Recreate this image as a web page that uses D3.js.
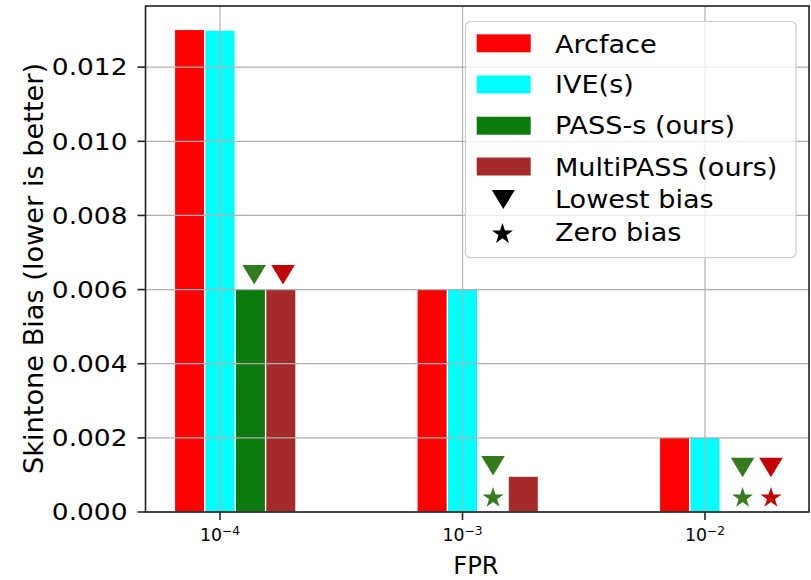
<!DOCTYPE html>
<html><head><meta charset="utf-8">
<script src="https://cdn.jsdelivr.net/npm/d3@7"></script>
<style>body{margin:0;background:#fff}svg{display:block}text{font-family:"DejaVu Sans",sans-serif;fill:#000}</style>
</head><body><svg id="c" width="811" height="580"></svg>
<script>
// ---- data ----
const categories = ["−4", "−3", "−2"];           // FPR = 10^k
const seriesNames = ["Arcface", "IVE(s)", "PASS-s (ours)", "MultiPASS (ours)"];
const arcface   = [0.0130, 0.0060, 0.0020];
const ive       = [0.01298, 0.0060, 0.0020];
const passS     = [0.0060, 0.0, 0.0];
const multiPass = [0.0060, 0.00095, 0.0];
const yTicks = [0.000, 0.002, 0.004, 0.006, 0.008, 0.010, 0.012];
// markers: category index, x offset (in category units), y value, series index
const lowestBias = [
  {cat: 0, dx: 0.141, y: 0.0064, s: 2},
  {cat: 0, dx: 0.260, y: 0.0064, s: 3},
  {cat: 1, dx: 0.126, y: 0.00125, s: 2},
  {cat: 2, dx: 0.155, y: 0.0012, s: 2},
  {cat: 2, dx: 0.272, y: 0.0012, s: 3}
];
const zeroBias = [
  {cat: 1, dx: 0.126, y: 0.00038, s: 2},
  {cat: 2, dx: 0.155, y: 0.00038, s: 2},
  {cat: 2, dx: 0.272, y: 0.00038, s: 3}
];

// ---- style ----
const seriesValues = [arcface, ive, passS, multiPass];
const barColors = ["#ff0000", "#00ffff", "#0d7a0d", "#a52a2a"];
const markerColors = {2: "#347a1e", 3: "#c20000"};

const svg = d3.select("#c");
const L = 145.5, R = 809, T = 6, B = 512;

const x = d3.scaleLinear().domain([-0.3, 2.44]).range([147.25, 811.7]);
// place category centers at 220, 462.5, 705
const xc = d3.scaleLinear().domain([0, 2]).range([220, 705]);
const step = 30.4;
const xs = d3.scaleBand().domain(d3.range(4)).range([-1.5 * step, 2.5 * step]).paddingInner(0.046).paddingOuter(0.023);
const y = d3.scaleLinear().domain([0, 0.01365]).range([B, T]);

function txt(g, px, py, str, size, sx, anchor) {
  return g.append("text")
    .attr("transform", `translate(${px},${py}) scale(${sx},1)`)
    .attr("text-anchor", anchor)
    .style("font-size", size + "px")
    .text(str);
}

// bars
const bars = svg.append("g");
seriesValues.forEach((vals, si) => {
  bars.selectAll(null).data(vals).join("rect")
    .attr("x", (d, i) => xc(i) + xs(si))
    .attr("width", xs.bandwidth())
    .attr("y", d => y(d))
    .attr("height", d => B - y(d))
    .attr("fill", barColors[si]);
});

// grid (drawn over bars)
const grid = svg.append("g").attr("stroke", "#b0b0b0").attr("stroke-width", 1.2);
grid.selectAll(null).data(yTicks).join("line")
  .attr("x1", L).attr("x2", R).attr("y1", d => y(d)).attr("y2", d => y(d));
grid.selectAll(null).data(categories).join("line")
  .attr("x1", (d, i) => xc(i)).attr("x2", (d, i) => xc(i)).attr("y1", T).attr("y2", B);

// markers
function triPath(w, h) {
  return `M${-w/2},${-h/2}L${w/2},${-h/2}L0,${h/2}Z`;
}
function starPath(r) {
  const ri = r * 0.382, pts = [];
  for (let k = 0; k < 10; k++) {
    const rr = k % 2 === 0 ? r : ri;
    const a = -Math.PI / 2 + k * Math.PI / 5;
    pts.push([rr * Math.cos(a), rr * Math.sin(a)]);
  }
  return "M" + pts.map(p => p[0].toFixed(2) + "," + p[1].toFixed(2)).join("L") + "Z";
}
const mk = svg.append("g");
mk.selectAll(null).data(lowestBias).join("path")
  .attr("d", triPath(23.5, 19.5))
  .attr("transform", d => `translate(${xc(d.cat + d.dx)},${y(d.y)})`)
  .attr("fill", d => markerColors[d.s]);
mk.selectAll(null).data(zeroBias).join("path")
  .attr("d", starPath(11))
  .attr("transform", d => `translate(${xc(d.cat + d.dx)},${y(d.y)})`)
  .attr("fill", d => markerColors[d.s]);

// axes spines
const ax = svg.append("g").attr("stroke", "#222").attr("stroke-width", 1.6).attr("fill", "none");
ax.append("rect").attr("x", L).attr("y", T).attr("width", R - L).attr("height", B - T);
// y ticks
ax.selectAll(null).data(yTicks).join("line")
  .attr("x1", L - 8).attr("x2", L).attr("y1", d => y(d)).attr("y2", d => y(d));
// x ticks
ax.selectAll(null).data(categories).join("line")
  .attr("x1", (d, i) => xc(i)).attr("x2", (d, i) => xc(i)).attr("y1", B).attr("y2", B + 8);

const lab = svg.append("g");
yTicks.forEach(v => txt(lab, 127.5, y(v) + 8.3, v.toFixed(3), 23, 1.15, "end"));
categories.forEach((c, i) => {
  const t = lab.append("text")
    .attr("x", xc(i)).attr("y", 541)
    .attr("text-anchor", "middle")
    .style("font-size", "17.3px");
  t.append("tspan").text("10");
  t.append("tspan").attr("dy", -6.5).style("font-size", "12.2px").text(c);
});
// axis labels
lab.append("text").attr("x", 476).attr("y", 574.3).attr("text-anchor", "middle")
  .style("font-size", "24.3px").text("FPR");
lab.append("text").attr("transform", "translate(42.6,268.5) rotate(-90)")
  .attr("text-anchor", "middle").style("font-size", "27.2px")
  .text("Skintone Bias (lower is better)");

// legend
const lg = svg.append("g");
lg.append("rect").attr("x", 465.5).attr("y", 21.5).attr("width", 330.5).attr("height", 236)
  .attr("rx", 5).attr("fill", "#fff").attr("fill-opacity", 0.8)
  .attr("stroke", "#cccccc").attr("stroke-width", 1.2);
const patchTop = [34.3, 75.5, 116.7, 157.5];
const textBase = [52.7, 93.3, 134.2, 175.7, 208.3, 241];
seriesNames.forEach((n, i) => {
  lg.append("rect").attr("x", 476.7).attr("y", patchTop[i]).attr("width", 54).attr("height", 18)
    .attr("fill", barColors[i]);
  txt(lg, 555, textBase[i], n, 24.3, 1.115, "start");
});
lg.append("path").attr("d", triPath(23, 19)).attr("transform", "translate(503.3,199.5)").attr("fill", "#000");
txt(lg, 555, textBase[4], "Lowest bias", 24.3, 1.115, "start");
lg.append("path").attr("d", starPath(11)).attr("transform", "translate(502.5,234)").attr("fill", "#000");
txt(lg, 555, textBase[5], "Zero bias", 24.3, 1.115, "start");
</script></body></html>
